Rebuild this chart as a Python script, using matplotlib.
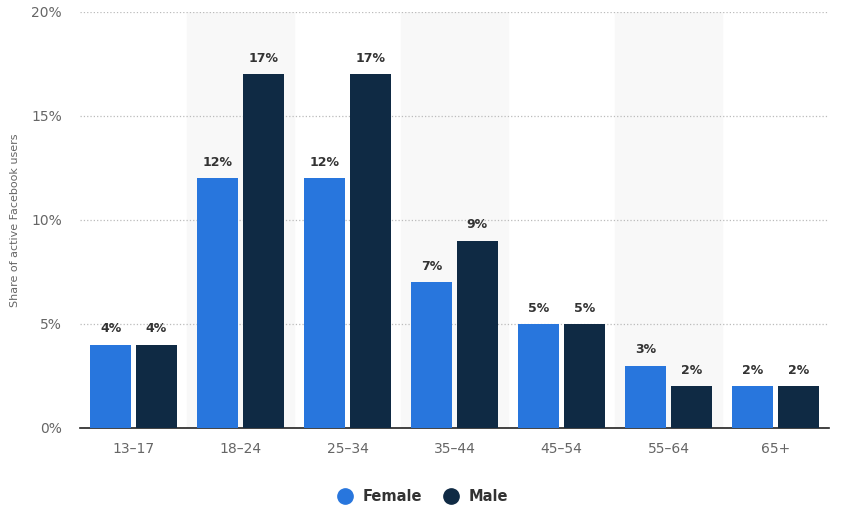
import numpy as np
import matplotlib.pyplot as plt
from matplotlib.lines import Line2D

# age groups and share of active users (%)
age_groups = ['13-17', '18-24', '25-34', '35-44', '45-54', '55-64', '65+']
female = [4, 12, 12, 7, 5, 3, 2]
male = [4, 17, 17, 9, 5, 2, 2]

female_color = '#2876dd'
male_color = '#0f2a44'

fig = plt.figure(figsize=(8.44, 5.15), dpi=100)
ax = fig.add_axes([0.0948, 0.169, 0.8875, 0.808])

x = np.arange(len(age_groups))
w = 0.385
gap = 0.02

# alternating shaded bands
for i in x:
    if i % 2 == 1:
        ax.axvspan(i - 0.5, i + 0.5, color='#f8f8f8', zorder=0)

b1 = ax.bar(x - w / 2 - gap, female, w, color=female_color, zorder=3)
b2 = ax.bar(x + w / 2 + gap, male, w, color=male_color, zorder=3)

for bars, vals in ((b1, female), (b2, male)):
    for b, v in zip(bars, vals):
        ax.text(b.get_x() + b.get_width() / 2, v + 0.45, f'{v}%', ha='center', va='bottom',
                fontsize=9, fontweight='bold', color='#333333', zorder=4)

ax.set_xlim(-0.5, len(age_groups) - 0.5)
ax.set_ylim(0, 20)
ax.set_yticks([0, 5, 10, 15, 20])
ax.set_yticklabels(['0%', '5%', '10%', '15%', '20%'])
ax.set_xticks(x)
ax.set_xticklabels([a.replace('-', '\u2013') for a in age_groups])
ax.tick_params(axis='both', length=0, labelsize=10, colors='#666666')
ax.tick_params(axis='x', pad=10)
ax.tick_params(axis='y', pad=13)

ax.grid(axis='y', linestyle=':', color='#bbbbbb', linewidth=0.9, zorder=1)
ax.set_axisbelow(True)
for s in ['top', 'right', 'left']:
    ax.spines[s].set_visible(False)
ax.spines['bottom'].set_color('#222222')
ax.spines['bottom'].set_linewidth(1.2)

ax.set_ylabel('Share of active Facebook users', fontsize=8, color='#666666', labelpad=8)

handles = [Line2D([], [], marker='o', linestyle='', markersize=11, color=female_color),
           Line2D([], [], marker='o', linestyle='', markersize=11, color=male_color)]
leg = fig.legend(handles, ['Female', 'Male'], loc='center', bbox_to_anchor=(0.497, 0.035),
                 ncol=2, frameon=False, handletextpad=0.2, columnspacing=1.0,
                 prop={'size': 10.5, 'weight': 'bold'})
for t in leg.get_texts():
    t.set_color('#333333')

fig.savefig('out.png', dpi=100)
